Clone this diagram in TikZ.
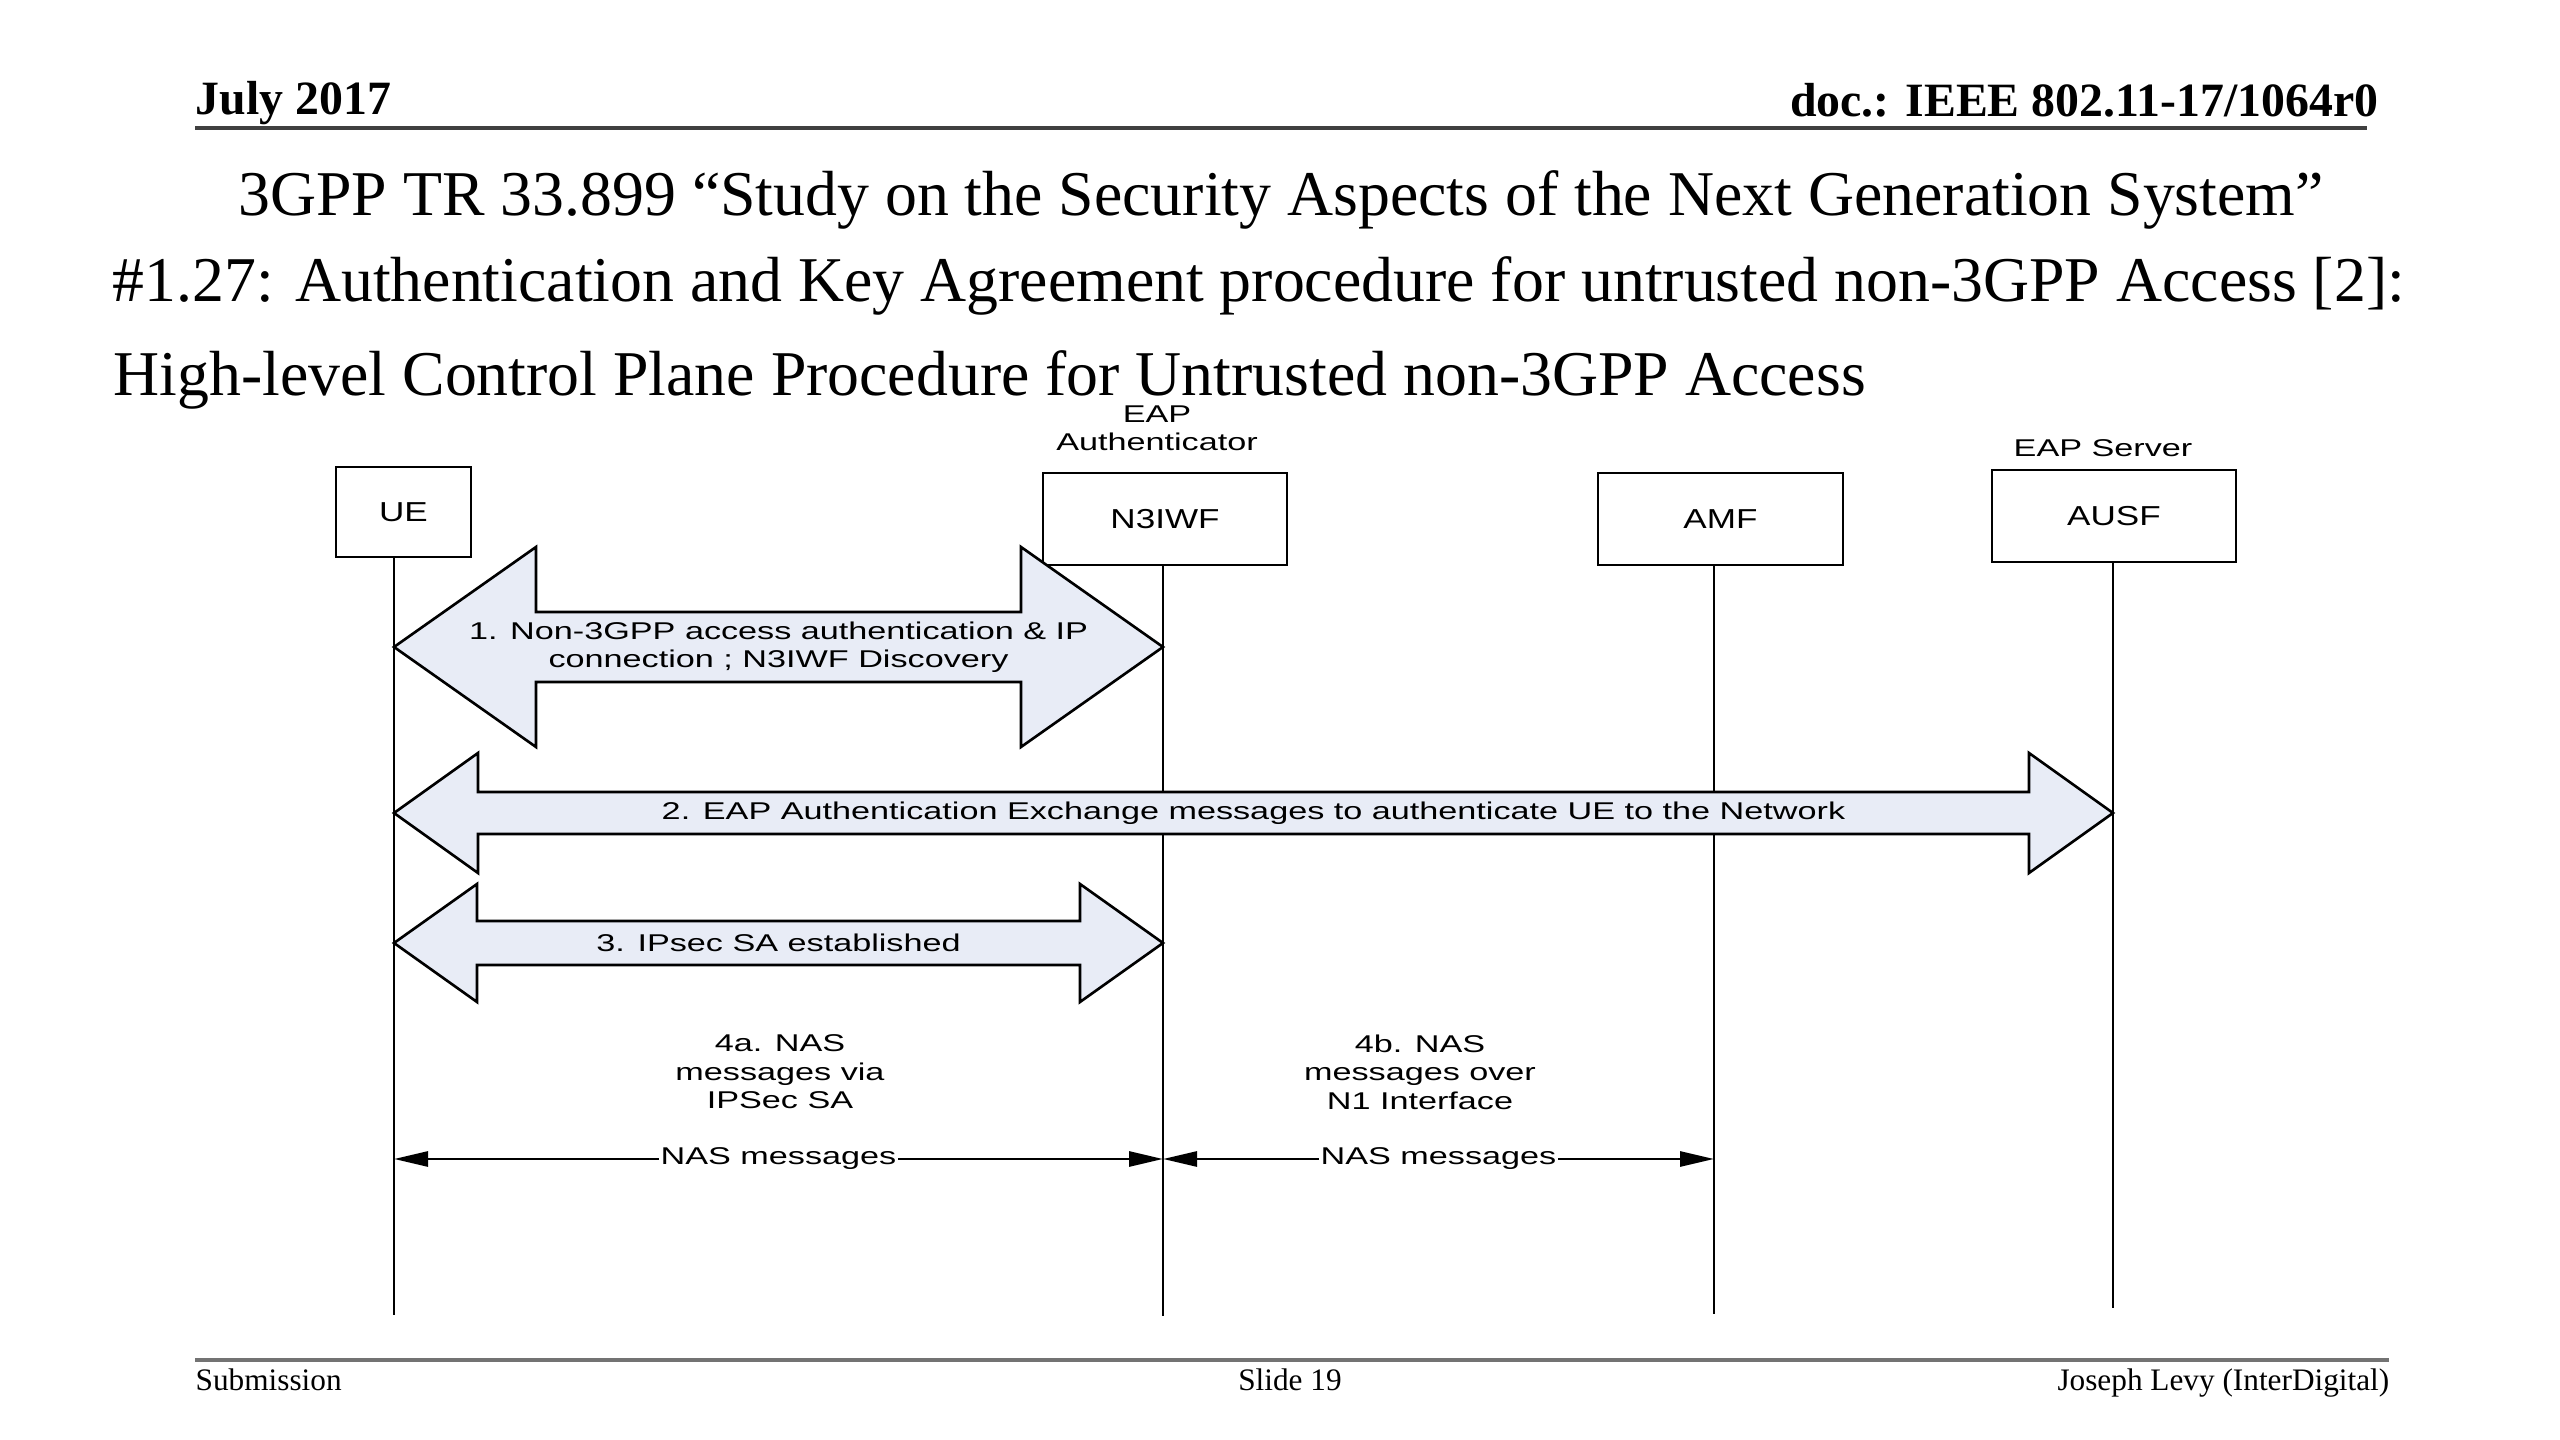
\documentclass[tikz,border=0pt]{standalone}
\usepackage{fontspec}
\setmainfont{Liberation Serif}
\newfontfamily\diagfont[FakeStretch=1.41]{Liberation Sans}
\newfontfamily\boxfont[FakeStretch=1.28]{Liberation Sans}
\usetikzlibrary{calc, positioning, arrows.meta}
\definecolor{arrowfill}{RGB}{232,236,246}
% block arrow between two points: left, right, half head, half shaft, head length
\newcommand{\blockarrow}[5]{%
	\draw [bigarrow] (#1) -- ($(#1)+(#5,#3)$) -- ($(#1)+(#5,#4)$) -- ($(#2)+(-#5,#4)$) -- ($(#2)+(-#5,#3)$) -- (#2)
		-- ($(#2)+(-#5,-#3)$) -- ($(#2)+(-#5,-#4)$) -- ($(#1)+(#5,-#4)$) -- ($(#1)+(#5,-#3)$) -- cycle;}
\begin{document}
\begin{tikzpicture}[x=0.1mm, y=-0.1mm, line join=miter,
		header/.style={font=\fontsize{13.6}{16}\selectfont\bfseries, inner sep=0},
		titletext/.style={font=\fontsize{18.15}{22}\selectfont, inner sep=0},
		footer/.style={font=\fontsize{8.9}{11}\selectfont, inner sep=0},
		actor/.style={draw, line width=0.8pt, font=\boxfont\fontsize{7.8}{9}\selectfont},
		lifeline/.style={line width=0.7pt},
		bigarrow/.style={draw, line width=0.75pt, fill=arrowfill},
		steptext/.style={font=\diagfont\fontsize{6.9}{8.1}\selectfont, align=center, inner sep=0},
		nasarrow/.style={line width=0.8pt, {Triangle[length=3.4mm, width=1.5mm]}-{Triangle[length=3.4mm, width=1.5mm]}},
		naslabel/.style={steptext, fill=white, inner sep=0.15mm}]
	\useasboundingbox (0,0) rectangle (2560,1440);
	% Header
	\node [header, anchor=base west] (date) at (195,115) {July 2017};
	\node [header, anchor=base east] (docnum) at (2379,117) {doc.: IEEE 802.11-17/1064r0};
	\draw [line width=0.9pt, draw=black!75] (195,128) -- (2367,128);
	% Title
	\node [titletext, anchor=base] (title-1) at (1281,216) {3GPP TR 33.899 “Study on the Security Aspects of the Next Generation System”};
	\node [titletext, anchor=base west] (title-2) at (112,302) {\#1.27: Authentication and Key Agreement procedure for untrusted non-3GPP Access [2]:};
	\node [titletext, anchor=base west] (title-3) at (113,396) {High-level Control Plane Procedure for Untrusted non-3GPP Access};
	% Actors
	\foreach \name/\x/\y/\w/\h [count=\i] in {UE/403.5/512/13.5/9.0, N3IWF/1165/519/24.4/9.2, AMF/1720.5/519/24.5/9.2, AUSF/2114/516/24.4/9.2}
		\node [actor, minimum width=\w mm, minimum height=\h mm] (actor-\i) at (\x,\y) {\name};
	\node [steptext, above=2mm of actor-2, xshift=-0.8mm] (role-2) {EAP\\Authenticator};
	\node [steptext, above=1.1mm of actor-4, xshift=-1.1mm] (role-4) {EAP Server};
	% Lifelines
	\foreach \x/\y [count=\i] in {394/1315, 1163/1316, 1714/1314, 2113/1308} {
		\coordinate (end-\i) at (\x,\y);
		\draw [lifeline] (actor-\i.south -| end-\i) -- (end-\i);
	}
	% Steps 1 to 3
	\coordinate (step1-l) at (end-1 |- 0,647);
	\coordinate (step1-r) at (end-2 |- 0,647);
	\blockarrow{step1-l}{step1-r}{100}{35}{142}
	\node [steptext] (step1-text) at ($(step1-l)!0.5!(step1-r)$) {1. Non-3GPP access authentication \& IP\\connection ; N3IWF Discovery};
	\coordinate (step2-l) at (end-1 |- 0,813);
	\coordinate (step2-r) at (end-4 |- 0,813);
	\blockarrow{step2-l}{step2-r}{60}{21}{84}
	\node [steptext] (step2-text) at ($(step2-l)!0.5!(step2-r)$) {2. EAP Authentication Exchange messages to authenticate UE to the Network};
	\coordinate (step3-l) at (end-1 |- 0,943);
	\coordinate (step3-r) at (end-2 |- 0,943);
	\blockarrow{step3-l}{step3-r}{59}{22}{83}
	\node [steptext] (step3-text) at ($(step3-l)!0.5!(step3-r)$) {3. IPsec SA established};
	% Step 4
	\node [steptext, anchor=north] (step4a-text) at (780,1034) {4a. NAS\\messages via\\IPSec SA};
	\node [steptext, anchor=north] (step4b-text) at (1420,1034) {4b. NAS\\messages over\\N1 Interface};
	\foreach \i in {1, 2, 3}
		\coordinate (nas-\i) at (end-\i |- 0,1159);
	\draw [nasarrow] (nas-1) -- node [naslabel] (nas-text-1) {NAS messages} (nas-2);
	\draw [nasarrow] (nas-2) -- node [naslabel] (nas-text-2) {NAS messages} (nas-3);
	% Footer
	\draw [line width=1.1pt, draw=black!55] (195,1360) -- (2389,1360);
	\node [footer, anchor=base west] (submission) at (195,1390) {Submission};
	\node [footer, anchor=base] (slide) at (1290,1390) {Slide 19};
	\node [footer, anchor=base east] (author) at (2390,1390) {Joseph Levy (InterDigital)};
\end{tikzpicture}
\end{document}
